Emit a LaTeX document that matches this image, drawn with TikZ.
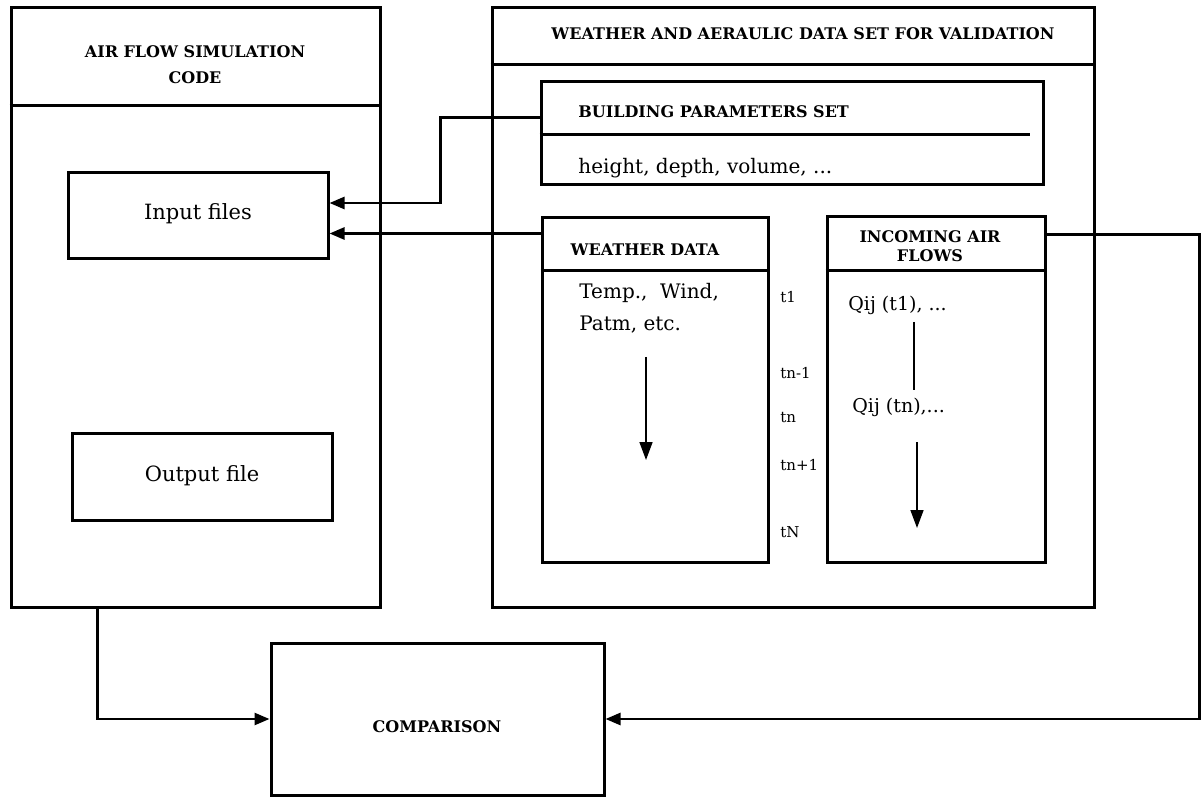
\documentclass[tikz,border=0pt]{standalone}
\usepackage{fontspec}
\setmainfont{DejaVu Serif}
\usetikzlibrary{arrows.meta,fit,calc}
\tikzset{
  box/.style={draw, line width=1.5pt, inner sep=0pt, rectangle},
  divider/.style={line width=1.5pt},
  conn/.style={line width=1.3pt, -{Triangle[length=7.5pt,width=6pt]}},
  thin/.style={line width=0.8pt},
  inarrow/.style={line width=0.8pt, -{Triangle[length=9pt,width=6.5pt]}},
  head/.style={font=\bfseries\fontsize{8}{9.5}\selectfont, align=center, inner sep=0pt},
  body/.style={font=\fontsize{10}{16}\selectfont, inner sep=0pt, align=left},
  label/.style={font=\fontsize{10.5}{12}\selectfont, inner sep=0pt},
  tlab/.style={font=\fontsize{7.5}{9}\selectfont, inner sep=0pt, anchor=west},
}
\begin{document}
\begin{tikzpicture}[x=0.5pt,y=-0.5pt]
\useasboundingbox[fill=white] (0,0) rectangle (1202,801);

% left box
\node[box, fit={(11,8) (380,607)}] (left) {};
\draw[divider] (left.west |- 0,106) -- (left.east |- 0,106);
\node[head, font=\bfseries\fontsize{8}{13}\selectfont] (lefthead) at (195,65) {AIR FLOW SIMULATION\\CODE};
\node[box, fit={(68,173) (328,259)}] (input) {};
\node[label] (inputtxt) at (198,214) {Input files};
\node[box, fit={(72,433) (332,520)}] (output) {};
\node[label] (outputtxt) at (202,476) {Output file};

% right box
\node[box, fit={(492,8) (1094,607)}] (right) {};
\draw[divider] (right.west |- 0,65) -- (right.east |- 0,65);
\node[head] (righthead) at (803,34) {WEATHER AND AERAULIC DATA SET FOR VALIDATION};

% building parameters
\node[box, fit={(541,82) (1043,185)}] (building) {};
\draw[divider] (building.west |- 0,135) -- (1030,135);
\node[head, anchor=west] (buildhead) at (578,112) {BUILDING PARAMETERS SET};
\node[body, anchor=west] (buildtxt) at (578,168) {height, depth, volume, ...};

% weather data
\node[box, fit={(542,218) (768,562)}] (weather) {};
\draw[divider] (weather.west |- 0,271) -- (weather.east |- 0,271);
\node[head] (weatherhead) at (645,250) {WEATHER DATA};
\node[body, anchor=north west] (weathertxt) at (579,283) {Temp.,~ Wind,\\Patm, etc.};
\coordinate (wa1) at (646,357);
\coordinate (wa2) at (646,460);
\draw[inarrow] (wa1) -- (wa2);

% time labels
\node[tlab] (t1) at (780,297) {t1};
\node[tlab] (tnm1) at (780,373) {tn-1};
\node[tlab] (tn) at (780,418) {tn};
\node[tlab] (tnp1) at (780,465) {tn+1};
\node[tlab] (tN) at (780,532) {tN};

% incoming air flows
\node[box, fit={(827,217) (1045,562)}] (incoming) {};
\draw[divider] (incoming.west |- 0,271) -- (incoming.east |- 0,271);
\node[head] (inchead) at (930,246) {INCOMING AIR\\FLOWS};
\node[font=\fontsize{9.5}{11}\selectfont, inner sep=0pt, anchor=west] (q1) at (848,305) {Qij (t1), ...};
\coordinate (qa1) at (914,322);
\coordinate (qa2) at (914,390);
\draw[thin] (qa1) -- (qa2);
\node[font=\fontsize{9.5}{11}\selectfont, inner sep=0pt, anchor=west] (q2) at (852,407) {Qij (tn),...};
\coordinate (qb1) at (917,442);
\coordinate (qb2) at (917,528);
\draw[inarrow] (qb1) -- (qb2);

% comparison
\node[box, fit={(271,643) (604,795)}] (comparison) {};
\node[head] (comptxt) at (437,727) {COMPARISON};

% connectors
\draw[conn] ([yshift=-18.5pt]building.north west) -- ++(-99,0) |- ([yshift=6.5pt]input.east);
\draw[conn] ([yshift=-8.5pt]weather.north west) coordinate (w1) -- (w1 -| input.east);
\draw[conn] ([yshift=-9.5pt]incoming.north east) -- ++(153,0) |- (comparison.east);
\draw[conn] ([xshift=44pt]left.south west) |- (comparison.west);
\end{tikzpicture}
\end{document}
